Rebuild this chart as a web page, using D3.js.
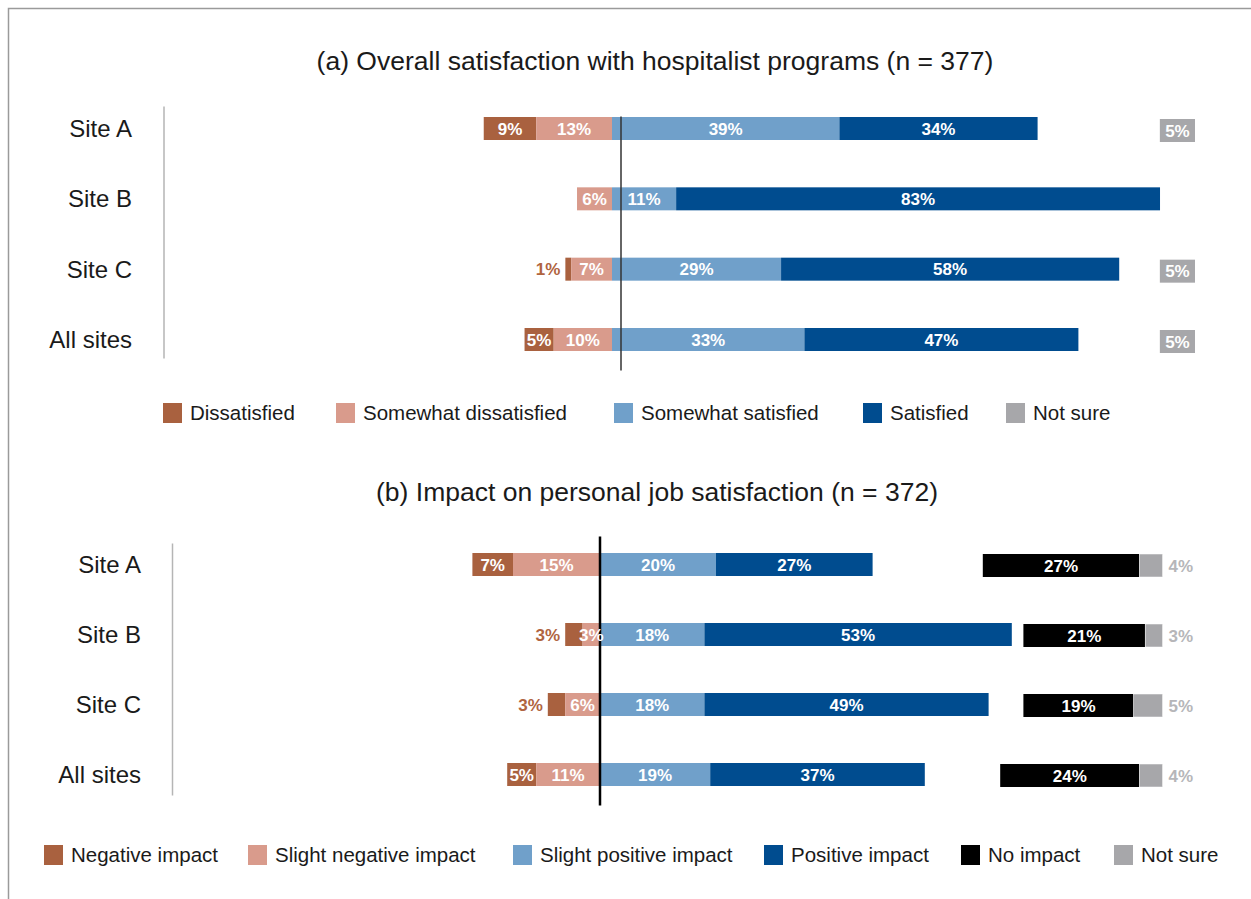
<!DOCTYPE html>
<html>
<head>
<meta charset="utf-8">
<script src="https://cdn.jsdelivr.net/npm/d3@7"></script>
<style>
    html, body { margin: 0; padding: 0; background: #fff; }
    svg { display: block; font-family: "Liberation Sans", Arial, sans-serif; }
</style>
</head>
<body>
<div class="chart"></div>
<script>
// categories
let sites = ["Site A", "Site B", "Site C", "All sites"]

// (a) overall satisfaction, %
let dissatisfied = [9, 0, 1, 5]
let somewhatDissatisfied = [13, 6, 7, 10]
let somewhatSatisfied = [39, 11, 29, 33]
let satisfied = [34, 83, 58, 47]
let notSureA = [5, 0, 5, 5]
let legendA = ["Dissatisfied", "Somewhat dissatisfied", "Somewhat satisfied", "Satisfied", "Not sure"]

// (b) impact on personal job satisfaction, %
let negativeImpact = [7, 3, 3, 5]
let slightNegative = [15, 3, 6, 11]
let slightPositive = [20, 18, 18, 19]
let positiveImpact = [27, 53, 49, 37]
let noImpact = [27, 21, 19, 24]
let notSureB = [4, 3, 5, 4]
let legendB = ["Negative impact", "Slight negative impact", "Slight positive impact", "Positive impact", "No impact", "Not sure"]

let width = 1251, height = 899
let brown = "#a9613f", pink = "#d99b8c", lightBlue = "#70a0ca", navy = "#004c8f",
    grey = "#a7a7aa", black = "#000"
let barH = 23

let svg = d3.select(".chart")
    .append("svg")
    .attr("width", width)
    .attr("height", height)

// outer frame (top + left only)
svg.append("path")
    .attr("d", `M8.5,${height} V8.5 H${width}`)
    .attr("fill", "none")
    .attr("stroke", "#9a9a9a")
    .attr("stroke-width", 1.5)

function panel(opt) {
    let x = d3.scaleLinear().domain([0, 100]).range([opt.zero, opt.zero + opt.pxPer100])
    let y = d3.scalePoint().domain(sites).range(opt.yRange)
    let w = (v) => x(v) - x(0)
    let g = svg.append("g")

    g.append("text")
        .attr("x", opt.titleX)
        .attr("y", opt.titleY)
        .attr("text-anchor", "middle")
        .attr("font-size", 26.5)
        .attr("fill", "#1a1a1a")
        .text(opt.title)

    // category labels + thin axis line
    g.append("g")
        .selectAll("text")
        .data(sites)
        .enter()
        .append("text")
        .attr("x", opt.labelX)
        .attr("y", (d) => y(d))
        .attr("dy", "0.36em")
        .attr("text-anchor", "end")
        .attr("font-size", 24)
        .attr("fill", "#1a1a1a")
        .text((d) => d)
    g.append("line")
        .attr("x1", opt.axisX).attr("x2", opt.axisX)
        .attr("y1", y(sites[0]) - opt.axisPad[0])
        .attr("y2", y(sites[sites.length - 1]) + opt.axisPad[1])
        .attr("stroke", "#b5b5b5")
        .attr("stroke-width", 1.5)

    // build segments from the arrays
    let segs = []
    sites.forEach((s, i) => {
        let [strongNeg, mildNeg, mildPos, strongPos] = opt.series.map((a) => a[i])
        segs.push({ site: s, v: strongNeg, x0: -(strongNeg + mildNeg), x1: -mildNeg, color: brown, first: true })
        segs.push({ site: s, v: mildNeg, x0: -mildNeg, x1: 0, color: pink })
        segs.push({ site: s, v: mildPos, x0: 0, x1: mildPos, color: lightBlue })
        segs.push({ site: s, v: strongPos, x0: mildPos, x1: mildPos + strongPos, color: navy })
    })
    segs = segs.filter((d) => d.v > 0)

    g.append("g")
        .selectAll("rect")
        .data(segs)
        .enter()
        .append("rect")
        .attr("x", (d) => x(d.x0))
        .attr("y", (d) => y(d.site) - barH / 2)
        .attr("width", (d) => x(d.x1) - x(d.x0))
        .attr("height", barH)
        .attr("fill", (d) => d.color)

    // zero divider
    g.append("line")
        .attr("x1", x(0) + opt.dividerShift).attr("x2", x(0) + opt.dividerShift)
        .attr("y1", y(sites[0]) - opt.dividerPad[0])
        .attr("y2", y(sites[sites.length - 1]) + opt.dividerPad[1])
        .attr("stroke", opt.dividerColor)
        .attr("stroke-width", opt.dividerWidth)

    g.append("g")
        .selectAll("text")
        .data(segs)
        .enter()
        .append("text")
        .attr("x", (d) => d.first && d.v <= 3 ? x(d.x0) - 5 : (x(d.x0) + x(d.x1)) / 2)
        .attr("y", (d) => y(d.site))
        .attr("dy", "0.36em")
        .attr("text-anchor", (d) => d.first && d.v <= 3 ? "end" : "middle")
        .attr("font-size", 17)
        .attr("font-weight", "bold")
        .attr("fill", (d) => d.first && d.v <= 3 ? "#b0643f" : "#fff")
        .text((d) => d.v + "%")

    // legend
    let lg = g.append("g")
        .selectAll("g")
        .data(opt.legend)
        .enter()
        .append("g")
        .attr("transform", (d, i) => `translate(${opt.legendX[i]},${opt.legendY})`)
    lg.append("rect")
        .attr("x", 0).attr("y", -10)
        .attr("width", 19).attr("height", 20)
        .attr("fill", (d, i) => opt.legendColors[i])
    lg.append("text")
        .attr("x", 27)
        .attr("dy", "0.36em")
        .attr("font-size", 20.5)
        .attr("fill", "#1a1a1a")
        .text((d) => d)

    return { x, y, w, g }
}

// ---- (a)
let pa = panel({
    title: "(a) Overall satisfaction with hospitalist programs (n = 377)",
    titleX: 655, titleY: 70,
    zero: 612, pxPer100: 583,
    yRange: [128.5, 339.5],
    labelX: 132, axisX: 164, axisPad: [22, 19],
    series: [dissatisfied, somewhatDissatisfied, somewhatSatisfied, satisfied],
    dividerShift: 9, dividerPad: [12, 31], dividerColor: "#333", dividerWidth: 1.5,
    legend: legendA,
    legendColors: [brown, pink, lightBlue, navy, grey],
    legendX: [163, 336, 614, 863, 1006], legendY: 413
})

// not sure boxes sit flush with the 100% mark, white label inside
let nsA = sites.map((s, i) => ({ site: s, v: notSureA[i] })).filter((d) => d.v > 0)
pa.g.append("g")
    .selectAll("rect")
    .data(nsA)
    .enter()
    .append("rect")
    .attr("x", (d) => pa.x(100) - pa.w(d.v) - 6)
    .attr("y", (d) => pa.y(d.site) - barH / 2 + 2)
    .attr("width", (d) => pa.w(d.v) + 6)
    .attr("height", barH)
    .attr("fill", grey)
pa.g.append("g")
    .selectAll("text")
    .data(nsA)
    .enter()
    .append("text")
    .attr("x", (d) => pa.x(100) - (pa.w(d.v) + 6) / 2)
    .attr("y", (d) => pa.y(d.site) + 2)
    .attr("dy", "0.36em")
    .attr("text-anchor", "middle")
    .attr("font-size", 17)
    .attr("font-weight", "bold")
    .attr("fill", "#fff")
    .text((d) => d.v + "%")

// ---- (b)
let pb = panel({
    title: "(b) Impact on personal job satisfaction (n = 372)",
    titleX: 657, titleY: 501,
    zero: 600, pxPer100: 580,
    yRange: [564.5, 774.5],
    labelX: 141, axisX: 172.5, axisPad: [21, 21],
    series: [negativeImpact, slightNegative, slightPositive, positiveImpact],
    dividerShift: 0, dividerPad: [28, 31], dividerColor: "#000", dividerWidth: 2.5,
    legend: legendB,
    legendColors: [brown, pink, lightBlue, navy, black, grey],
    legendX: [44, 248, 513, 764, 961, 1114], legendY: 855
})

// no impact + not sure, right aligned at 97%
let rightEnd = 97
let nb = sites.map((s, i) => ({ site: s, ni: noImpact[i], ns: notSureB[i] }))
let rg = pb.g.append("g")
rg.selectAll("rect.ni")
    .data(nb)
    .enter()
    .append("rect")
    .attr("class", "ni")
    .attr("x", (d) => pb.x(rightEnd - d.ns - d.ni))
    .attr("y", (d) => pb.y(d.site) - barH / 2 + 1)
    .attr("width", (d) => pb.w(d.ni))
    .attr("height", barH)
    .attr("fill", black)
rg.selectAll("rect.ns")
    .data(nb)
    .enter()
    .append("rect")
    .attr("class", "ns")
    .attr("x", (d) => pb.x(rightEnd - d.ns))
    .attr("y", (d) => pb.y(d.site) - barH / 2 + 1)
    .attr("width", (d) => pb.w(d.ns))
    .attr("height", barH)
    .attr("fill", grey)
    .attr("stroke", "#fff")
    .attr("stroke-width", 0.5)
rg.selectAll("text.ni")
    .data(nb)
    .enter()
    .append("text")
    .attr("class", "ni")
    .attr("x", (d) => pb.x(rightEnd - d.ns - d.ni / 2))
    .attr("y", (d) => pb.y(d.site) + 1)
    .attr("dy", "0.36em")
    .attr("text-anchor", "middle")
    .attr("font-size", 17)
    .attr("font-weight", "bold")
    .attr("fill", "#fff")
    .text((d) => d.ni + "%")
rg.selectAll("text.ns")
    .data(nb)
    .enter()
    .append("text")
    .attr("class", "ns")
    .attr("x", pb.x(rightEnd) + 6)
    .attr("y", (d) => pb.y(d.site) + 1)
    .attr("dy", "0.36em")
    .attr("font-size", 17)
    .attr("font-weight", "bold")
    .attr("fill", "#b6b6b9")
    .text((d) => d.ns + "%")
</script>
</body>
</html>
